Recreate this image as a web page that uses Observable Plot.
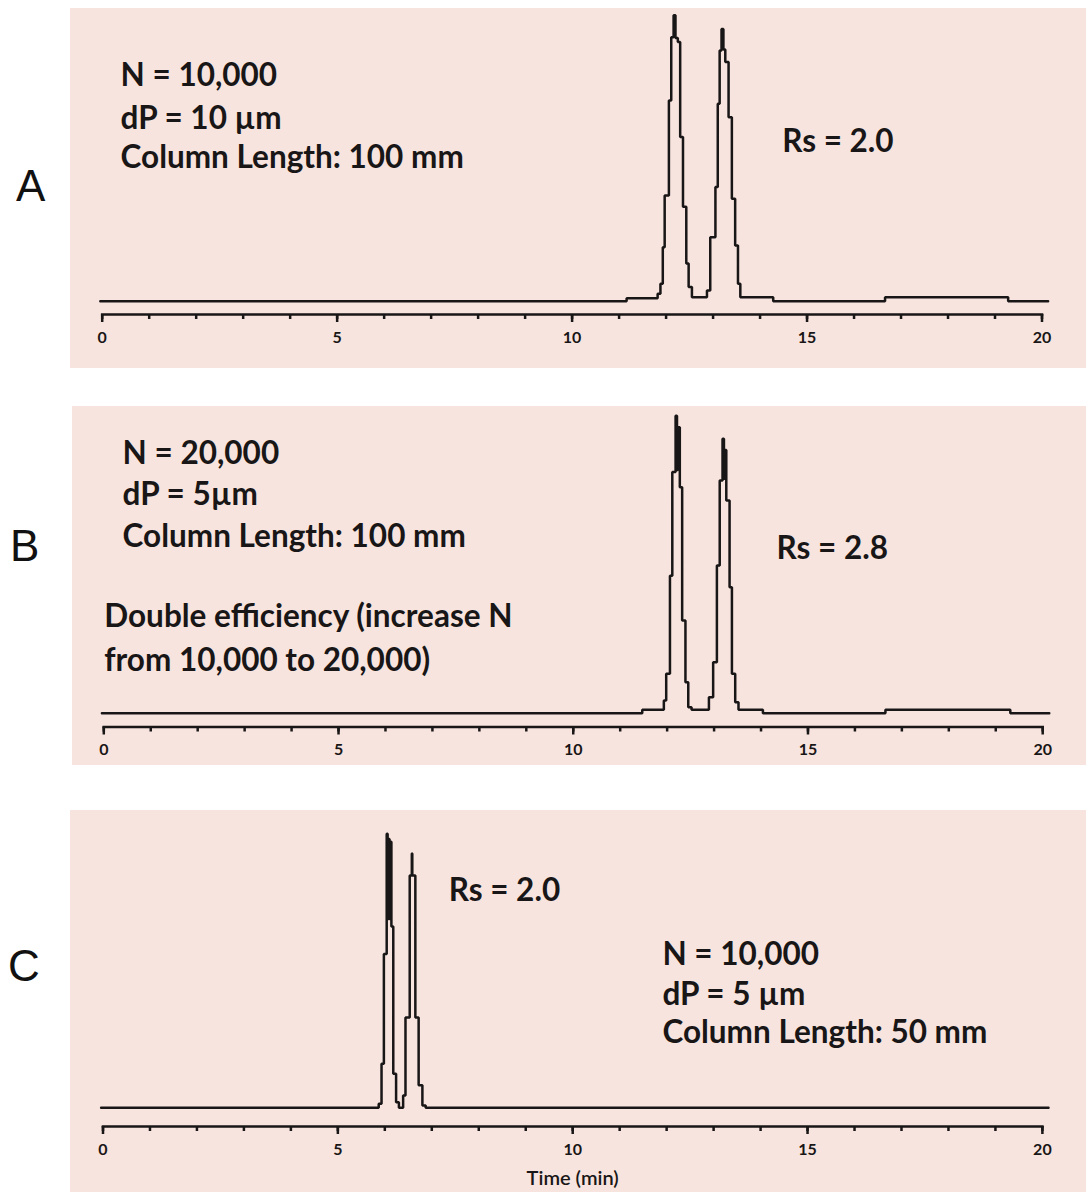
<!DOCTYPE html>
<html><head><meta charset="utf-8">
<script src="https://cdn.jsdelivr.net/npm/d3@7"></script>
<script src="https://cdn.jsdelivr.net/npm/@observablehq/plot@0.6"></script>
<style>
html,body{margin:0;padding:0;background:#fff}
body{width:1086px;height:1192px;position:relative;overflow:hidden}
.panel{position:absolute;background:#f8e4de}
.panel svg{display:block}
.letter{position:absolute;font-family:"Liberation Sans",Arial,sans-serif;font-size:44px;color:#111;line-height:1}
</style></head><body>
<script>
// ---- data (time in min, detector signal in relative units) ----
const panelNames = ["A", "B", "C"];
const tickValues = [0, 5, 10, 15, 20];

const timeA = [-0.04, 11.16, 11.82, 11.88, 11.93, 11.97, 12.06, 12.11, 12.16, 12.20, 12.25, 12.30, 12.36, 12.43, 12.48, 12.55, 12.87, 12.94, 13.05, 13.10, 13.14, 13.18, 13.22, 13.26, 13.33, 13.40, 13.47, 13.53, 13.58, 14.28, 16.66, 19.28, 20.13];
const signalA = [0, 1, 2.6, 6.1, 18.9, 37, 70.2, 92.3, 100, 92, 90.6, 57.4, 33, 13.2, 5, 1.4, 3.7, 22.4, 39.9, 69, 87.7, 95.2, 88, 83.6, 64.3, 35.8, 19.5, 6.1, 1.4, 0, 1.4, 0, 0];

const timeB = [-0.04, 11.47, 11.93, 11.98, 12.06, 12.11, 12.18, 12.21, 12.23, 12.27, 12.32, 12.39, 12.45, 12.52, 12.89, 12.98, 13.06, 13.12, 13.18, 13.21, 13.23, 13.26, 13.33, 13.38, 13.45, 13.52, 14.04, 16.65, 19.31, 20.14];
const signalB = [0, 1.2, 4.4, 13.8, 48.1, 84.3, 104, 85, 100, 79, 32.4, 10.8, 2.1, 1.2, 5.6, 17.8, 51.6, 81.4, 96, 82, 92, 74.4, 44, 13.8, 3.8, 1.2, 0, 1.2, 0, 0];

const timeC = [-0.04, 5.87, 5.93, 5.98, 6.04, 6.06, 6.08, 6.10, 6.12, 6.14, 6.18, 6.24, 6.30, 6.39, 6.44, 6.53, 6.575, 6.585, 6.65, 6.72, 6.80, 6.87, 20.13];
const signalC = [0, 1.4, 15.4, 53.8, 95.8, 66, 94, 66, 93, 63.4, 11.9, 1.9, 0, 4.3, 31.6, 81.2, 88.9, 81.2, 31.6, 7.9, 0.8, 0, 0];

// annotations: text anchored at (time, signal)
const notesA = [
  {text: "N = 10,000", t: 0.39, s: 78.9},
  {text: "dP = 10 µm", t: 0.39, s: 63.9},
  {text: "Column Length: 100 mm", t: 0.39, s: 50.2},
  {text: "Rs = 2.0", t: 14.47, s: 55.8}
];
const notesB = [
  {text: "N = 20,000", t: 0.40, s: 90.8},
  {text: "dP = 5µm", t: 0.40, s: 76.5},
  {text: "Column Length: 100 mm", t: 0.40, s: 61.8},
  {text: "Double efficiency (increase N", t: 0.01, s: 33.5},
  {text: "from 10,000 to 20,000)", t: 0.01, s: 18.4},
  {text: "Rs = 2.8", t: 14.33, s: 57.6}
];
const notesC = [
  {text: "Rs = 2.0", t: 7.36, s: 76.0},
  {text: "N = 10,000", t: 11.91, s: 53.3},
  {text: "dP = 5 µm", t: 11.91, s: 39.6},
  {text: "Column Length: 50 mm", t: 11.91, s: 26.3}
];
const xLabel = "Time (min)";

// ---- layout ----
const panels = [
  {name: panelNames[0], time: timeA, signal: signalA, notes: notesA, left: 70, top: 8, width: 1016, height: 360, x0: 101.7, x20: 1041.5, base: 300.7, axis: 314, lx: 16, ly: 164, showLabel: false},
  {name: panelNames[1], time: timeB, signal: signalB, notes: notesB, left: 72, top: 406, width: 1014, height: 359, x0: 103.3, x20: 1042.2, base: 712.7, axis: 726.5, lx: 10, ly: 524, showLabel: false},
  {name: panelNames[2], time: timeC, signal: signalC, notes: notesC, left: 70, top: 810, width: 1016, height: 382, x0: 102.5, x20: 1041.9, base: 1107.3, axis: 1126, lx: 8, ly: 944, showLabel: true}
];

const ink = "#181616";
const noteFont = "Lato, 'Open Sans', sans-serif";

for (const p of panels) {
  const data = p.time.map((t, i) => ({t, s: p.signal[i]}));
  const div = document.createElement("div");
  div.className = "panel";
  Object.assign(div.style, {left: p.left + "px", top: p.top + "px", width: p.width + "px", height: p.height + "px"});
  const marks = [
    Plot.frame({anchor: "bottom", stroke: ink, strokeWidth: 2.5}),
    Plot.axisX(d3.range(0, 21), {tickSize: 5, tickFormat: () => "", strokeWidth: 2.5, stroke: ink, label: null}),
    Plot.axisX(tickValues, {tickSize: 8, tickPadding: 9, strokeWidth: 2.5, stroke: ink, fill: ink, label: null,
      fontSize: 16, fontFamily: noteFont, fontWeight: 700}),
    Plot.line(data, {x: "t", y: "s", curve: "step-after", stroke: ink, strokeWidth: 2.5, strokeLinejoin: "miter"}),
    Plot.text(p.notes, {x: "t", y: "s", text: "text", textAnchor: "start", lineAnchor: "middle",
      fontSize: 31.5, fontFamily: noteFont, fontWeight: 700, fill: ink})
  ];
  if (p.showLabel) {
    marks.push(Plot.text([xLabel], {x: () => 10, frameAnchor: "bottom", text: d => d, dy: 52, lineAnchor: "middle",
      fontSize: 20, fontFamily: noteFont, fontWeight: 600, fill: ink}));
  }
  const svg = Plot.plot({
    width: p.width,
    height: p.height,
    marginLeft: p.x0 - p.left,
    marginRight: p.left + p.width - p.x20,
    marginTop: 0,
    marginBottom: p.top + p.height - p.axis,
    style: {background: "transparent", overflow: "visible"},
    x: {domain: [0, 20], label: null},
    y: {domain: [0, 100], range: [p.base - p.top, p.base - p.top - 286], axis: null},
    marks
  });
  div.appendChild(svg);
  document.body.appendChild(div);

  const lab = document.createElement("div");
  lab.className = "letter";
  lab.textContent = p.name;
  Object.assign(lab.style, {left: p.lx + "px", top: p.ly + "px"});
  document.body.appendChild(lab);
}
</script>
</body></html>
